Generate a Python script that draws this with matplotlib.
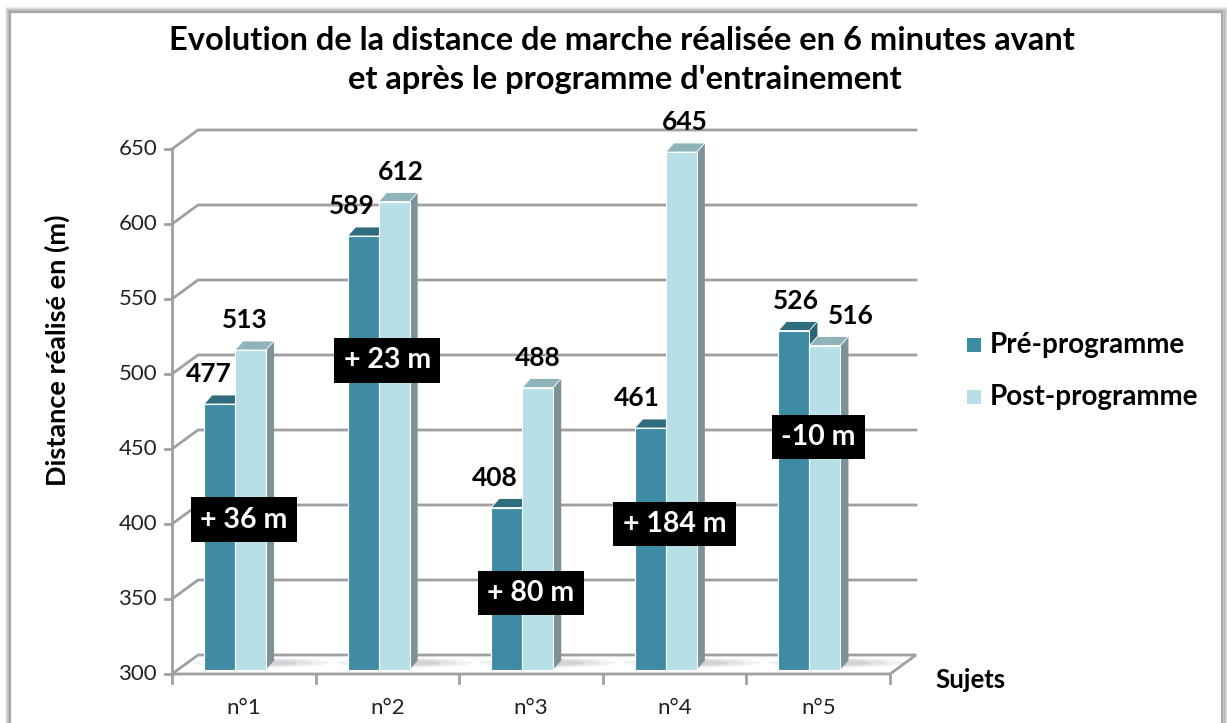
import matplotlib.pyplot as plt
from matplotlib.patches import Polygon, Rectangle, Ellipse
import numpy as np

plt.rcParams['font.family'] = ['Lato', 'DejaVu Sans']

# data
subjects = ['n°1', 'n°2', 'n°3', 'n°4', 'n°5']
pre = [477, 589, 408, 461, 526]
post = [513, 612, 488, 645, 516]
series_names = ['Pré-programme', 'Post-programme']
diff_y = [403, 509, 354, 400, 458]      # where the "+ x m" boxes sit (value units)
yticks = [300, 350, 400, 450, 500, 550, 600, 650]

# label nudges in pixels (style)
pre_dx = [-11, -11, -12, -13, 2]
post_dx = [-6, 7, 0, 3, 26]

W, H = 1227, 723
fig = plt.figure(figsize=(W / 100, H / 100), dpi=100)

def fx(px):
    return px / W

def fy(py):
    return 1 - py / H

# outer frame with soft shadow
for i, a in enumerate([0.05, 0.07, 0.09, 0.12]):
    off = 4 - i
    fig.patches.append(Rectangle((fx(10 - off), fy(730)), fx(1212 + 2 * off), fy(12 - off) - fy(730),
                                 transform=fig.transFigure, fill=False, lw=2.5,
                                 edgecolor=(0, 0, 0, a)))
fig.patches.append(Rectangle((fx(10), fy(730)), fx(1212), fy(12) - fy(730),
                             transform=fig.transFigure, fill=False, lw=1.5, edgecolor='#a6a6a6'))

ax = fig.add_axes([fx(172), fy(674), fx(890 - 172), fy(149) - fy(674)])
ax.set_xlim(0, 5)
ax.set_ylim(300, 650)
ax.axis('off')

wall_dx, wall_dy = 26 / 143.6, 19 / 1.5
bar_dx, bar_dy = 8 / 143.6, 6
bw = 0.216
lead = 0.223
lift = 3
grid_c = '#a0a0a0'

# floor
floor = Polygon([(0, 300), (5, 300), (5 + wall_dx, 300 + wall_dy), (wall_dx, 300 + wall_dy)],
                closed=True, facecolor='white', edgecolor=grid_c, lw=2, clip_on=False, zorder=1)
ax.add_patch(floor)

# gridlines on the back wall
for v in yticks[1:]:
    ax.plot([0, wall_dx, 5 + wall_dx], [v, v + wall_dy, v + wall_dy], color=grid_c, lw=2,
            clip_on=False, zorder=1, solid_joinstyle='miter')

# axis lines and ticks
ax.plot([0, 0], [300, 650], color=grid_c, lw=2, clip_on=False, zorder=2)
for v in yticks:
    ax.plot([-7 / 143.6, 0], [v, v], color=grid_c, lw=2, clip_on=False, zorder=2)
    ax.text(-15 / 143.6, v, str(v), ha='right', va='center', fontsize=16, color='#222222')
for k in range(6):
    ax.plot([k, k], [300, 300 - 9 / 1.5], color=grid_c, lw=2, clip_on=False, zorder=2)

# soft shadows on the floor
for i in range(5):
    for j, a in enumerate([0.08, 0.10, 0.12]):
        ax.add_patch(Ellipse((i + 0.62, 300 + 7.5), 0.95 - j * 0.22, 6.5 - j * 1.5, facecolor='#606060',
                             edgecolor='none', alpha=a, clip_on=False, zorder=1.5))


def bar3d(x0, v, front, top, side, z):
    b, t = 300 + lift, v + lift
    ax.add_patch(Polygon([(x0 + bw, b), (x0 + bw + bar_dx, b + bar_dy), (x0 + bw + bar_dx, t + bar_dy),
                          (x0 + bw, t)], closed=True, facecolor=side, edgecolor='none',
                         clip_on=False, zorder=z))
    ax.add_patch(Polygon([(x0, t), (x0 + bw, t), (x0 + bw + bar_dx, t + bar_dy), (x0 + bar_dx, t + bar_dy)],
                         closed=True, facecolor=top, edgecolor='white', lw=0.6, clip_on=False, zorder=z))
    ax.add_patch(Rectangle((x0, b), bw, t - b, facecolor=front, edgecolor='white', lw=0.8,
                           clip_on=False, zorder=z))


dark = ('#3d8ca3', '#2e6c7e', '#2a6474')
light = ('#b7dfe8', '#8eb3bb', '#7b9398')

for i in range(5):
    x_pre = i + lead
    x_post = i + lead + bw
    bar3d(x_pre, pre[i], *dark, z=3)
    bar3d(x_post, post[i], *light, z=4)
    ax.annotate(str(pre[i]), (x_pre + bw / 2, pre[i] + lift), xytext=(pre_dx[i] * 0.72, 21.5),
                textcoords='offset points', ha='center', va='center', fontsize=19, fontweight='bold',
                zorder=6, annotation_clip=False)
    ax.annotate(str(post[i]), (x_post + bw / 2, post[i] + lift), xytext=(post_dx[i] * 0.72, 21.5),
                textcoords='offset points', ha='center', va='center', fontsize=19, fontweight='bold',
                zorder=6, annotation_clip=False)
    d = post[i] - pre[i]
    txt = f'+ {d} m' if d >= 0 else f'{d} m'
    ax.text(i + 0.5, diff_y[i], txt, ha='center', va='center', fontsize=20.5, fontweight='bold',
            color='white', zorder=7,
            bbox=dict(boxstyle='square,pad=0.33', facecolor='black', edgecolor='none'))
    ax.text(i + 0.5, 300 - 34 / 1.5, subjects[i], ha='center', va='center', fontsize=16,
            color='#222222')

# titles and labels
fig.text(fx(622), fy(40), 'Evolution de la distance de marche réalisée en 6 minutes avant',
         ha='center', va='center', fontsize=23.5, fontweight='bold')
fig.text(fx(625), fy(80), "et après le programme d'entrainement",
         ha='center', va='center', fontsize=23.5, fontweight='bold')
fig.text(fx(57), fy(350), 'Distance réalisé en (m)', rotation=90, ha='center', va='center',
         fontsize=19.5, fontweight='bold')
fig.text(fx(935), fy(680), 'Sujets', ha='left', va='center', fontsize=18.5, fontweight='bold')

# legend
for k, (name, col) in enumerate(zip(series_names, [dark[0], light[0]])):
    yc = 345 + 52 * k
    fig.patches.append(Rectangle((fx(967), fy(yc + 7)), fx(14), fy(yc - 7) - fy(yc + 7),
                                 transform=fig.transFigure, facecolor=col, edgecolor='none'))
    fig.text(fx(990), fy(yc), name, ha='left', va='center', fontsize=20, fontweight='bold')

fig.savefig('out.png', dpi=100)
